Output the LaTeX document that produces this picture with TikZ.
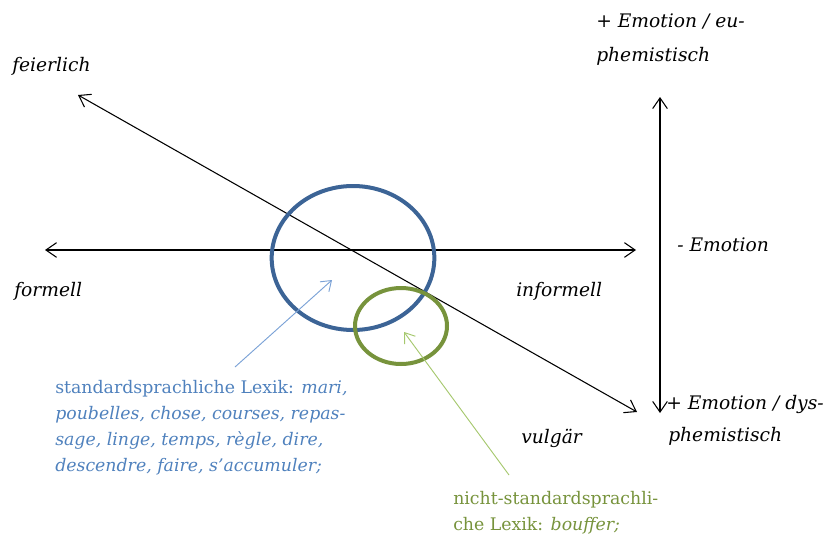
\documentclass[tikz,border=0pt]{standalone}
\usepackage{fontspec}
\setmainfont{DejaVu Serif}
\usetikzlibrary{arrows.meta,shapes.geometric}
\definecolor{circblue}{HTML}{3C6496}
\definecolor{textblue}{HTML}{4F81BD}
\definecolor{arrblue}{HTML}{7BA2D6}
\definecolor{circgreen}{HTML}{77933C}
\definecolor{arrgreen}{HTML}{A6C86E}

\begin{document}
\begin{tikzpicture}[x=0.75pt,y=-0.75pt,
  every node/.style={font=\fontsize{14}{19.5}\selectfont\itshape, inner sep=0pt, anchor=base west},
  lexik/.style={font=\fontsize{13}{19.5}\selectfont, align=left},
  axis/.style={line width=0.8pt, {Straight Barb[length=8pt,width=11pt]}-{Straight Barb[length=8pt,width=11pt]}},
  pointer/.style={line width=0.7pt, -{Straight Barb[length=7pt,width=10pt]}},
  ring/.style={ellipse, draw, line width=3pt, anchor=center}]
\useasboundingbox (0,0) rectangle (831,542);

% axes
\coordinate (formL) at (45,250);
\coordinate (formR) at (636,250);
\coordinate (feier) at (78,95);
\coordinate (vulg) at (637,412);
\coordinate (emoT) at (660,97);
\coordinate (emoB) at (660,413);
\draw[axis] (formL) -- (formR);
\draw[axis] (feier) -- (vulg);
\draw[axis] (emoT) -- (emoB);

% circles
\node[ring, draw=circblue, minimum width=122pt, minimum height=108pt] (std) at (353,258) {};
\node[ring, draw=circgreen, minimum width=69pt, minimum height=57pt] (nstd) at (401,326) {};

% axis labels
\node (lfeier) at (12,71) {feierlich};
\node (lform) at (14,296) {formell};
\node (linform) at (516,296) {informell};
\node (lvulg) at (521,443) {vulgär};
\node (leu1) at (596,28) {+ Emotion / eu-};
\node (leu2) at (596,61) {phemistisch};
\node (lnoemo) at (677,251) {- Emotion};
\node (ldys1) at (666,409) {+ Emotion / dys-};
\node (ldys2) at (668,441) {phemistisch};

% lexicon labels
\node[lexik, text=textblue] (stdlex) at (55,471)
  {standardsprachliche Lexik: \textit{mari,}\\
   \textit{poubelles, chose, courses, repas-}\\
   \textit{sage, linge, temps, règle, dire,}\\
   \textit{descendre, faire, s’accumuler;}};
\node[lexik, text=circgreen] (nstdlex) at (453,530)
  {nicht-standardsprachli-\\ che Lexik: \textit{bouffer;}};

% pointers
\coordinate (stdtail) at (235,367);
\coordinate (stdtip) at (332,280);
\coordinate (nstdtail) at (509,475);
\coordinate (nstdtip) at (404,332);
\draw[pointer, arrblue] (stdtail) -- (stdtip);
\draw[pointer, arrgreen] (nstdtail) -- (nstdtip);
\end{tikzpicture}
\end{document}
